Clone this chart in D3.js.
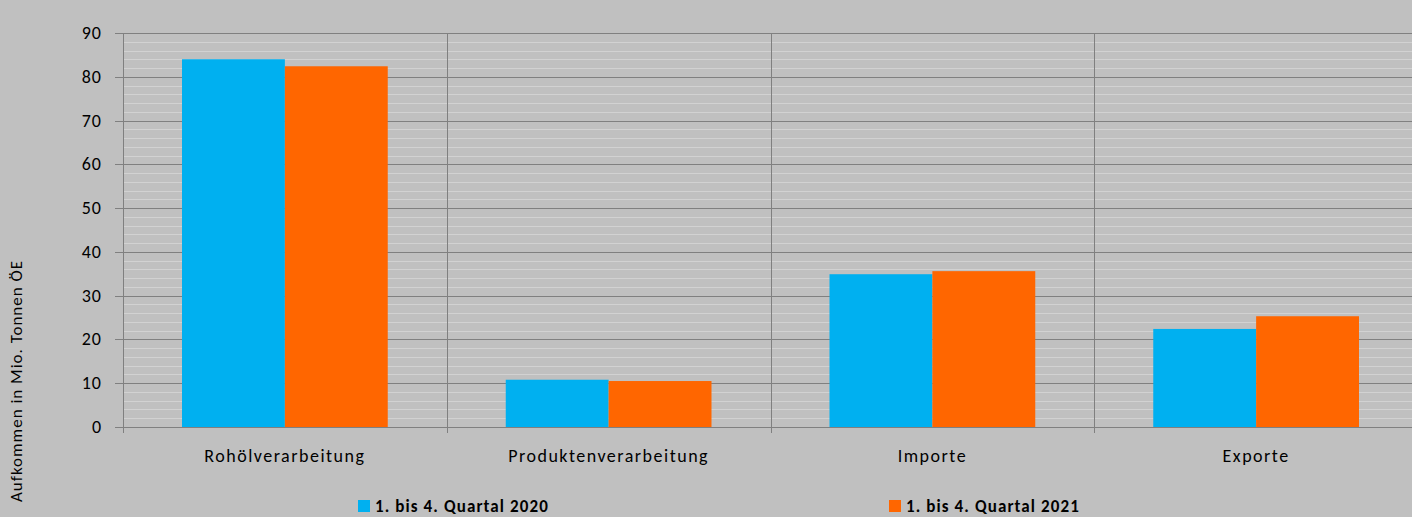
<!DOCTYPE html>
<html><head><meta charset="utf-8">
<script src="https://cdn.jsdelivr.net/npm/d3@7"></script>
<style>body{margin:0;background:#c0c0c0;}svg{display:block;font-family:Carlito,"Open Sans",sans-serif;}</style>
</head><body>
<script>
var categories = ['Rohölverarbeitung', 'Produktenverarbeitung', 'Importe', 'Exporte'];
var series = ['1. bis 4. Quartal 2020', '1. bis 4. Quartal 2021'];
var values2020 = [84.0, 10.8, 34.9, 22.4];
var values2021 = [82.4, 10.5, 35.6, 25.3];
var colors = ['#00b0f0', '#ff6600'];
var yTicks = [0, 10, 20, 30, 40, 50, 60, 70, 80, 90];

(function() {
var width = 1412, height = 517;
var plotLeft = 123, plotRight = 1418, plotTop = 33, plotBottom = 427;

var svg = d3.select('body').append('svg').attr('width', width).attr('height', height);

var x = d3.scaleBand().domain(categories).range([plotLeft, plotRight]);
var y = d3.scaleLinear().domain([0, 90]).range([plotBottom, plotTop]);
// bars about 103px wide within a 324px band
var xs = d3.scaleBand().domain(series).range([59, x.bandwidth() - 59]);

// minor grid
var minor = d3.range(0, 91, 2).filter(function(d) { return d % 10 !== 0; });
svg.selectAll('.minor').data(minor).enter().append('line')
  .attr('x1', plotLeft).attr('x2', plotRight)
  .attr('y1', function(d) { return Math.round(y(d)) + 0.5; }).attr('y2', function(d) { return Math.round(y(d)) + 0.5; })
  .attr('stroke', '#d2d2d2').attr('stroke-width', 1);

// major grid
svg.selectAll('.major').data(yTicks).enter().append('line')
  .attr('x1', plotLeft - 8).attr('x2', plotRight)
  .attr('y1', function(d) { return Math.round(y(d)) + 0.5; }).attr('y2', function(d) { return Math.round(y(d)) + 0.5; })
  .attr('stroke', '#808080').attr('stroke-width', 1);

// vertical separators
svg.selectAll('.sep').data(categories).enter().append('line')
  .attr('x1', function(d) { return Math.round(x(d)) + 0.5; }).attr('x2', function(d) { return Math.round(x(d)) + 0.5; })
  .attr('y1', plotTop).attr('y2', plotBottom + 6)
  .attr('stroke', '#808080').attr('stroke-width', 1);

// bars
[values2020, values2021].forEach(function(vals, si) {
  svg.selectAll('.bar' + si).data(vals).enter().append('rect')
    .attr('x', function(d, i) { return x(categories[i]) + xs(series[si]); })
    .attr('width', xs.bandwidth())
    .attr('y', function(d) { return y(d); })
    .attr('height', function(d) { return y(0) - y(d); })
    .attr('fill', colors[si]);
});

// y tick labels
svg.selectAll('.yl').data(yTicks).enter().append('text')
  .attr('x', 102).attr('y', function(d) { return y(d) + 6; })
  .attr('text-anchor', 'end').attr('font-size', 18).attr('letter-spacing', 1).attr('fill', '#000')
  .text(function(d) { return d; });

// x labels
svg.selectAll('.xl').data(categories).enter().append('text')
  .attr('x', function(d) { return x(d) + x.bandwidth() / 2; }).attr('y', 462)
  .attr('text-anchor', 'middle').attr('font-size', 18).attr('letter-spacing', 1.5).attr('fill', '#000')
  .text(function(d) { return d; });

// y axis title
svg.append('text').attr('transform', 'translate(22,381) rotate(-90)')
  .attr('text-anchor', 'middle').attr('font-size', 17).attr('letter-spacing', 1).attr('fill', '#000')
  .text('Aufkommen  in Mio. Tonnen ÖE');

// legend
var lx = [375, 906];
series.forEach(function(s, i) {
  svg.append('rect').attr('x', lx[i] - 17).attr('y', 500).attr('width', 12).attr('height', 12).attr('fill', colors[i]);
  svg.append('text').attr('x', lx[i]).attr('y', 512).attr('font-size', 17).attr('font-weight', 'bold').attr('letter-spacing', 1.1)
    .text(s);
});
})();
</script>
</body></html>
